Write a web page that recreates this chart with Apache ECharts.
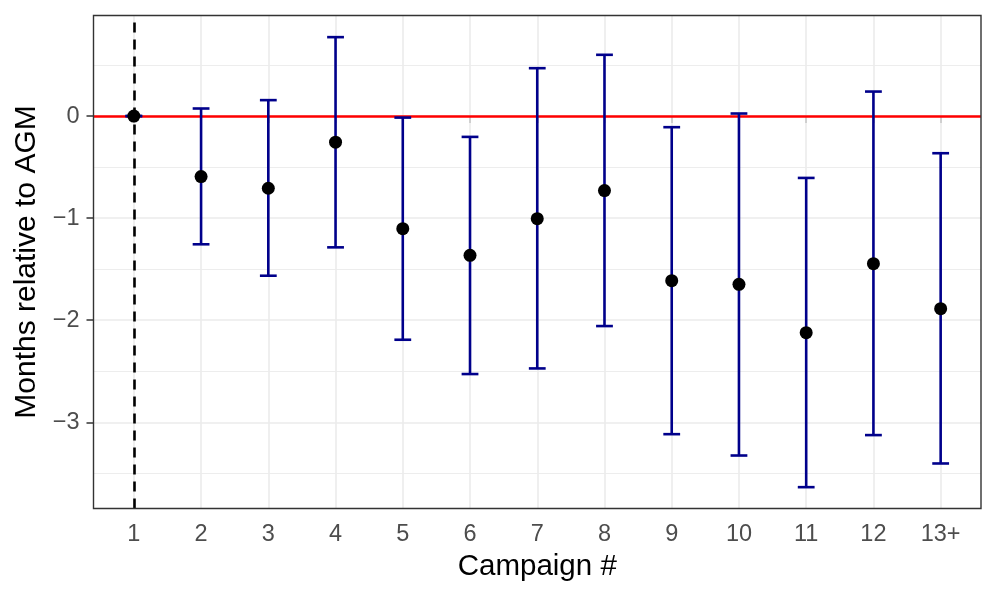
<!DOCTYPE html>
<html>
<head>
<meta charset="utf-8">
<script src="https://cdn.jsdelivr.net/npm/echarts@6/dist/echarts.min.js"></script>
<style>html,body{margin:0;padding:0;background:#fff}#c{width:997px;height:598px}</style>
</head>
<body>
<div id="c"></div>
<script>
const categories = ['1','2','3','4','5','6','7','8','9','10','11','12','13+'];
const estimate = [0, -0.593, -0.707, -0.256, -1.103, -1.364, -1.005, -0.730, -1.612, -1.648, -2.122, -1.446, -1.887];
const upper    = [0,  0.074,  0.156,  0.773, -0.015, -0.204,  0.469,  0.600, -0.109,  0.025, -0.606,  0.240, -0.364];
const lower    = [0, -1.256, -1.564, -1.286, -2.191, -2.527, -2.472, -2.057, -3.116, -3.325, -3.635, -3.125, -3.403];
const yMajorTicks = [0, -1, -2, -3];
const yMinorTicks = [0.5, -0.5, -1.5, -2.5, -3.5];
const refLineY = 0;
const refLineX = 1;

const xPos = categories.map((c, i) => i + 1);
const fmtY = v => (v < 0 ? '\u2212' + Math.abs(v) : String(v));

const chart = echarts.init(document.getElementById('c'), null, {renderer: 'canvas'});
const font = '"Liberation Sans", Arial, Helvetica, sans-serif';
const gridColor = '#EBEBEB';

chart.setOption({
  animation: false,
  backgroundColor: '#fff',
  grid: {left: 93.5, right: 16, top: 15.5, bottom: 89.5, show: true, borderColor: '#333333', borderWidth: 1.4, backgroundColor: 'transparent', z: 10},
  xAxis: {
    type: 'value', min: 0.4, max: 13.6,
    name: 'Campaign #', nameLocation: 'middle', nameGap: 41,
    nameTextStyle: {color: '#000', fontSize: 29.5, fontFamily: font},
    axisLine: {show: false},
    axisTick: {show: true, customValues: xPos, length: 7, lineStyle: {color: '#333333', width: 1.5}},
    axisLabel: {customValues: xPos, formatter: v => categories[Math.round(v) - 1], color: '#4D4D4D', fontSize: 23.5, fontFamily: font, margin: 14},
    splitLine: {show: false}
  },
  yAxis: {
    type: 'value', min: -3.844, max: 0.985,
    name: 'Months relative to AGM', nameLocation: 'middle', nameGap: 52,
    nameTextStyle: {color: '#000', fontSize: 30, fontFamily: font},
    axisLine: {show: false},
    axisTick: {show: true, customValues: yMajorTicks, length: 7, lineStyle: {color: '#333333', width: 1.5}},
    axisLabel: {customValues: yMajorTicks, formatter: fmtY, color: '#4D4D4D', fontSize: 23.5, fontFamily: font, margin: 14},
    splitLine: {show: false}
  },
  series: [
    {
      type: 'line', data: [], silent: true, z: 1,
      markLine: {
        silent: true, symbol: 'none', animation: false, z: 1,
        label: {show: false},
        data: [
          ...yMinorTicks.map(v => ({yAxis: v, lineStyle: {color: gridColor, width: 0.9, type: 'solid'}})),
          ...yMajorTicks.map(v => ({yAxis: v, lineStyle: {color: gridColor, width: 1.6, type: 'solid'}})),
          ...xPos.map(v => ({xAxis: v, lineStyle: {color: gridColor, width: 1.6, type: 'solid'}}))
        ]
      }
    },
    {
      type: 'line', data: [], silent: true, z: 2,
      markLine: {
        silent: true, symbol: 'none', animation: false, z: 2,
        label: {show: false},
        data: [
          {xAxis: refLineX, lineStyle: {color: '#000', width: 2.6, type: [10, 7]}},
          {yAxis: refLineY, lineStyle: {color: '#FF0000', width: 2.6, type: 'solid'}}
        ]
      }
    },
    {
      type: 'custom', z: 3, silent: true,
      data: xPos.map((x, i) => [x, lower[i], upper[i]]),
      renderItem: function (params, api) {
        const x = api.value(0), lo = api.value(1), hi = api.value(2);
        const top = api.coord([x, hi]);
        const bot = api.coord([x, lo]);
        const l = api.coord([x - 0.125, hi])[0];
        const r = api.coord([x + 0.125, hi])[0];
        const mk = () => ({stroke: '#00008B', lineWidth: 2.6, fill: null});
        return {
          type: 'group',
          children: [
            {type: 'line', shape: {x1: top[0], y1: top[1], x2: bot[0], y2: bot[1]}, style: mk()},
            {type: 'line', shape: {x1: l, y1: top[1], x2: r, y2: top[1]}, style: mk()},
            {type: 'line', shape: {x1: l, y1: bot[1], x2: r, y2: bot[1]}, style: mk()}
          ]
        };
      }
    },
    {
      type: 'scatter', z: 4, silent: true,
      symbol: 'circle', symbolSize: 13,
      itemStyle: {color: '#000', opacity: 1},
      data: xPos.map((x, i) => [x, estimate[i]])
    }
  ]
});
</script>
</body>
</html>
